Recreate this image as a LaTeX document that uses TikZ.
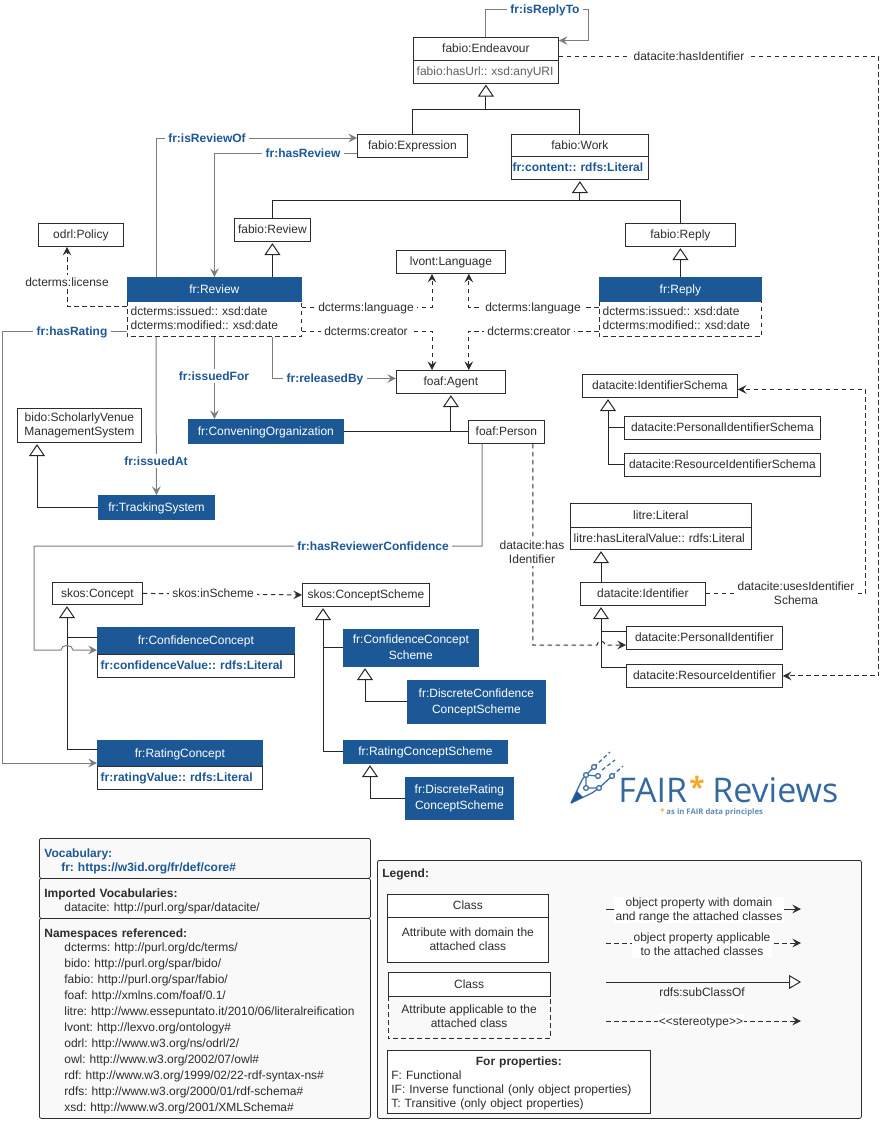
\documentclass[tikz,border=0pt]{standalone}
\usepackage{fontspec}
\setmainfont{Liberation Sans}
\newfontfamily\logofont{Open Sans}
\usetikzlibrary{arrows.meta}
\frenchspacing
\newcommand{\boxfont}{\fontsize{9}{10.5}\selectfont}
\definecolor{frblue}{RGB}{29,88,150}
\definecolor{inkdark}{RGB}{45,45,45}
\definecolor{inkgrey}{RGB}{125,125,125}
\definecolor{panelgrey}{RGB}{249,249,249}
\definecolor{logostar}{RGB}{245,170,40}
\tikzset{
  wh/.style 2 args={minimum width=#1*0.75pt,minimum height=#2*0.75pt},
  basebox/.style={inner sep=0pt,anchor=north west,align=center,text=inkdark,line width=0.6pt,
    font=\boxfont,execute at begin node={\rule{0pt}{8pt}},execute at end node={\vphantom{Ag}}},
  classbox/.style={basebox,draw=inkdark,fill=white},
  frbox/.style={basebox,draw=frblue,fill=frblue,text=white},
  attrbox/.style={classbox,align=left,text width=#1*0.75pt-5pt,inner xsep=2.5pt},
  frattr/.style={attrbox=#1,text=frblue,font=\boxfont\bfseries},
  dashattr/.style={attrbox=#1,draw=none,fill=none},
  subclass/.style={draw=black!85,line width=0.75pt,shorten >=1pt,
    -{Triangle[fill=white,length=9pt,width=12pt]}},
  subline/.style={draw=black!85,line width=0.75pt},
  objprop/.style={draw=inkgrey,line width=0.75pt,
    -{Stealth[length=6.5pt,width=6.5pt,inset=2.5pt]}},
  annprop/.style={draw=inkdark,line width=0.75pt,dash pattern=on 3.4pt off 2.6pt,
    -{Stealth[length=6.5pt,width=6.5pt,inset=2.5pt,fill=inkdark]}},
  proplabel/.style={fill=white,inner xsep=2.5pt,inner ysep=0.5pt,align=center,text=inkdark,
    font=\boxfont,execute at begin node={\rule{0pt}{8pt}},execute at end node={\vphantom{Ag}}},
  frlabel/.style={proplabel,text=frblue,font=\boxfont\bfseries},
  panelbox/.style={basebox,draw=inkdark,fill=panelgrey,rounded corners=1.5pt,align=left,
    text width=#1*0.75pt-7.5pt,inner xsep=3.75pt,execute at begin node={\rule{0pt}{11.1pt}}},
  logoline/.style={draw=frblue!85,line width=1pt},
  logodot/.style={logoline,fill=white,circle,inner sep=0pt,minimum size=3.6pt},
}
\begin{document}
\begin{tikzpicture}[x=0.75pt,y=-0.75pt]
\useasboundingbox (0,0) rectangle (880,1121);
% classes
\node[classbox,wh={145}{23}] (endeavour) at (413,37) {fabio:Endeavour};
\node[attrbox=145,wh={145}{22.5},text=inkdark!75] (endeavourAttr) at (413,60) {fabio:hasUrl:: xsd:anyURI};
\node[classbox,wh={110}{23}] (expression) at (357,134) {fabio:Expression};
\node[classbox,wh={137}{22}] (work) at (511,134) {fabio:Work};
\node[frattr=137,wh={137}{23},text width=101pt,inner xsep=0.875pt] (workAttr) at (511,156) {fr:content:: rdfs:Literal};
\node[classbox,wh={76}{23}] (fabioReview) at (234,218) {fabio:Review};
\node[classbox,wh={110}{23}] (fabioReply) at (625,223) {fabio:Reply};
\node[classbox,wh={85}{23}] (policy) at (38,223) {odrl:Policy};
\node[classbox,wh={109}{23}] (language) at (396,250) {lvont:Language};
\node[frbox,wh={174}{24}] (review) at (127,277) {fr:Review};
\node[dashattr=174,wh={174}{35}] (reviewAttr) at (127,301) {dcterms:issued:: xsd:date\\dcterms:modified:: xsd:date};
\node[frbox,wh={162}{24}] (reply) at (599,277) {fr:Reply};
\node[dashattr=162,wh={162}{35}] (replyAttr) at (599,301) {dcterms:issued:: xsd:date\\dcterms:modified:: xsd:date};
\node[classbox,wh={109}{23}] (agent) at (396,370) {foaf:Agent};
\node[classbox,wh={76}{23}] (person) at (468,420) {foaf:Person};
\node[frbox,wh={155}{24}] (convening) at (188,419) {fr:ConveningOrganization};
\node[classbox,wh={124}{34}] (venue) at (17,408) {bido:ScholarlyVenue\\ManagementSystem};
\node[frbox,wh={116}{24}] (tracking) at (98,495) {fr:TrackingSystem};
\node[classbox,wh={155}{23}] (idSchema) at (582,374) {datacite:IdentifierSchema};
\node[classbox,wh={196}{23}] (personalSchema) at (624,416) {datacite:PersonalIdentifierSchema};
\node[classbox,wh={196}{23}] (resourceSchema) at (624,453) {datacite:ResourceIdentifierSchema};
\node[classbox,wh={181}{24}] (literal) at (570,503) {litre:Literal};
\node[attrbox=181,wh={181}{22}] (literalAttr) at (570,527) {litre:hasLiteralValue:: rdfs:Literal};
\node[classbox,wh={125}{23}] (identifier) at (580,582) {datacite:Identifier};
\node[classbox,wh={156}{23}] (personalId) at (626,626) {datacite:PersonalIdentifier};
\node[classbox,wh={156}{23}] (resourceId) at (626,664) {datacite:ResourceIdentifier};
\node[classbox,wh={90}{22}] (concept) at (52,582) {skos:Concept};
\node[classbox,wh={127}{23}] (scheme) at (302,583) {skos:ConceptScheme};
\node[frbox,wh={197}{27}] (confidence) at (97,627) {fr:ConfidenceConcept};
\node[frattr=197,wh={197}{23}] (confidenceAttr) at (97,654) {fr:confidenceValue:: rdfs:Literal};
\node[frbox,wh={165}{26}] (rating) at (97,740) {fr:RatingConcept};
\node[frattr=165,wh={165}{23}] (ratingAttr) at (97,766) {fr:ratingValue:: rdfs:Literal};
\node[frbox,wh={135}{37}] (confScheme) at (343,629) {fr:ConfidenceConcept\\[1.5pt]Scheme};
\node[frbox,wh={138}{43}] (discreteConf) at (407,680) {fr:DiscreteConfidence\\[1.5pt]ConceptScheme};
\node[frbox,wh={164}{23}] (ratingScheme) at (343,740) {fr:RatingConceptScheme};
\node[frbox,wh={108}{42}] (discreteRating) at (405,777) {fr:DiscreteRating\\[1.5pt]ConceptScheme};
% subclass lines
\draw[subclass] (expression.north) |- ([shift={(0,26.5)}]endeavourAttr.south) -- (endeavourAttr.south);
\draw[subline] (work.north) |- ([shift={(0,26.5)}]endeavourAttr.south);
\draw[subclass] (fabioReview.north) |- ([shift={(0,21)}]workAttr.south) -- (workAttr.south);
\draw[subline] (fabioReply.north) |- ([shift={(0,21)}]workAttr.south);
\draw[subclass] (review.north -| fabioReview.south) -- (fabioReview.south);
\draw[subclass] (reply.north) -- (fabioReply.south);
\draw[subclass] (convening.east) -| (agent.south);
\draw[subline] (person.west) -- ++(-18,0);
\draw[subclass] (tracking.west) -| ([shift={(20,0)}]venue.south west);
\draw[subclass] (resourceSchema.west) -| ([shift={(26,0)}]idSchema.south west);
\draw[subline] (personalSchema.west) -- ++(-16,0);
\draw[subclass] ([shift={(21,0)}]identifier.north west) -- ([shift={(31,0)}]literalAttr.south west);
\draw[subclass] ([shift={(0,3)}]resourceId.north west) -| ([shift={(21,0)}]identifier.south west);
\draw[subline] ([shift={(0,5)}]personalId.north west) -- ++(-25,0);
\draw[subclass] ([shift={(0,9)}]rating.north west) -| ([shift={(15,0)}]concept.south west);
\draw[subline] ([shift={(0,10)}]confidence.north west) -- ++(-30,0);
\draw[subclass] ([shift={(0,11)}]ratingScheme.north west) -| ([shift={(21,0)}]scheme.south west);
\draw[subline] ([shift={(0,18)}]confScheme.north west) -- ++(-20,0);
\draw[subclass] (discreteConf.west) -| ([shift={(22,0)}]confScheme.south west);
\draw[subclass] (discreteRating.west) -| ([shift={(27,0)}]ratingScheme.south west);
% object properties
\draw[objprop] (endeavour.north) |- (588,9) |- ([shift={(0,3.5)}]endeavour.north east)
  node[frlabel] (lblReplyTo) at (545,9) {fr:isReplyTo};
\draw[objprop] ([shift={(29,0)}]review.north west) |- ([shift={(0,4)}]expression.north west)
  node[frlabel] (lblReviewOf) at (207,138) {fr:isReviewOf};
\draw[objprop] ([shift={(0,19)}]expression.north west) -| (review.north)
  node[frlabel] (lblHasReview) at (303,153) {fr:hasReview};
\draw[objprop] ([shift={(0,30)}]reviewAttr.north west) -| (2.5,763) -- ([shift={(0,23)}]rating.north west)
  node[frlabel] (lblRating) at (72,331) {fr:hasRating};
\draw[objprop] ([shift={(29,0)}]reviewAttr.south west) -- (tracking.north)
  node[frlabel] (lblIssuedAt) at (156,461) {fr:issuedAt};
\draw[objprop] (reviewAttr.south) -- (reviewAttr.south |- convening.north)
  node[frlabel] (lblIssuedFor) at (214,376) {fr:issuedFor};
\draw[objprop] ([shift={(145,0)}]reviewAttr.south west) |- ([shift={(0,-3.5)}]agent.west)
  node[frlabel] (lblReleased) at (325,378) {fr:releasedBy};
\draw[objprop] ([shift={(14,0)}]person.south west) |- (34,546) -- (34,650) -- (61,650)
  .. controls (61,644) and (73,644) .. (73,650) -- ([shift={(0,23)}]confidence.north west)
  node[frlabel] (lblConfidence) at (373,546) {fr:hasReviewerConfidence};
% annotation properties
\draw[annprop] ([shift={(0,19)}]endeavour.north east) -| ([shift={(96,0)}]resourceId.east) -- (resourceId.east)
  node[proplabel] (lblEndeavourId) at (689,56) {datacite:hasIdentifier};
\draw[annprop] ([shift={(0,5)}]reviewAttr.north west) -| ([shift={(29,0)}]policy.south west)
  node[proplabel] (lblLicense) at (67,282) {dcterms:license};
\draw[annprop] ([shift={(0,6)}]reviewAttr.north east) -| ([shift={(36,0)}]language.south west)
  node[proplabel] (lblLangReview) at (366,307) {dcterms:language};
\draw[annprop] ([shift={(0,30)}]reviewAttr.north east) -| ([shift={(36,0)}]agent.north west)
  node[proplabel] (lblCreatorReview) at (366,331) {dcterms:creator};
\draw[annprop] ([shift={(0,6)}]replyAttr.north west) -| ([shift={(-37,0)}]language.south east)
  node[proplabel] (lblLangReply) at (533,307) {dcterms:language};
\draw[annprop] ([shift={(0,30)}]replyAttr.north west) -| ([shift={(-37,0)}]agent.north east)
  node[proplabel] (lblCreatorReply) at (529,331) {dcterms:creator};
\draw[annprop] ([shift={(-12,0)}]person.south east) |- (597,645)
  .. controls (597,640) and (605,640) .. (605,645) -- ([shift={(0,19)}]personalId.north west)
  node[proplabel] (lblPersonId) at (532,553) {datacite:has\\Identifier};
\draw[annprop] (identifier.east) -| ([shift={(128,3.5)}]idSchema.east) -- ([shift={(0,3.5)}]idSchema.east)
  node[proplabel] (lblUsesSchema) at (796,594) {datacite:usesIdentifier\\Schema};
\draw[annprop] (concept.east) -- (scheme.west)
  node[proplabel] (lblInScheme) at (213,593) {skos:inScheme};
% dashed attribute outlines
\draw[annprop,-] (reviewAttr.north west) |- (reviewAttr.south east) -- (reviewAttr.north east);
\draw[annprop,-] (replyAttr.north west) |- (replyAttr.south east) -- (replyAttr.north east);
% logo
\draw[logoline,line join=round] (571,803) -- (581,782) .. controls (582,779) and (584,777) .. (586,775);
\draw[logoline,line join=round] (571,803) -- (592,793) -- (599,788);
\fill[frblue] (571,803) -- (577,791) -- (583,797) -- cycle;
\draw[logoline] (586,775) -- (594,767) (586,775) -- (598,776) (586,775) -- (586,788) -- (599,788) -- (612,776);
\draw[logoline,dash pattern=on 3pt off 2pt] (594,767) -- (610,752) (602,770) -- (615,760) (612,776) -- (623,766);
\node[logodot] (dotA) at (586,775) {};
\node[logodot] (dotB) at (594,767) {};
\node[logodot] (dotC) at (598,776) {};
\node[logodot] (dotD) at (586,788) {};
\node[logodot] (dotE) at (599,788) {};
\node[logodot] (dotF) at (612,776) {};
\node[inner sep=0pt,anchor=base west,text=frblue!90,font=\logofont\fontsize{25.5}{26}\selectfont] (logoFair) at (618,802) {FAIR};
\node[inner sep=0pt,anchor=base,text=logostar,font=\logofont\bfseries\fontsize{21}{21}\selectfont] (logoStar) at (697,797) {*};
\node[inner sep=0pt,anchor=base west,text=frblue!90,font=\logofont\fontsize{25.5}{26}\selectfont] (logoReviews) at (712,802) {Reviews};
\node[inner sep=0pt,anchor=base west,text=frblue!70,font=\logofont\bfseries\fontsize{5.8}{6}\selectfont] (logoNote) at (660,814) {\textcolor{logostar}{*} as in FAIR data principles};
% vocabulary panels
\node[panelbox=331,wh={331}{40},text=frblue,font=\boxfont\bfseries] (vocabPanel) at (39,838)
  {Vocabulary:\\\hspace*{12.7pt}fr: https://w3id.org/fr/def/core\#};
\node[panelbox=331,wh={331}{40}] (importPanel) at (39,878)
  {\textbf{Imported Vocabularies:}\\\hspace*{15pt}datacite: http://purl.org/spar/datacite/};
\node[panelbox=331,wh={331}{200}] (nsPanel) at (39,918)
  {\textbf{Namespaces referenced:}\\[-0.4pt]
  \hspace*{15pt}dcterms: http://purl.org/dc/terms/\\[1.5pt]
  \hspace*{15pt}bido: http://purl.org/spar/bido/\\[1.5pt]
  \hspace*{15pt}fabio: http://purl.org/spar/fabio/\\[1.5pt]
  \hspace*{15pt}foaf: http://xmlns.com/foaf/0.1/\\[1.5pt]
  \hspace*{15pt}litre: http://www.essepuntato.it/2010/06/literalreification\\[1.5pt]
  \hspace*{15pt}lvont: http://lexvo.org/ontology\#\\[1.5pt]
  \hspace*{15pt}odrl: http://www.w3.org/ns/odrl/2/\\[1.5pt]
  \hspace*{15pt}owl: http://www.w3.org/2002/07/owl\#\\[1.5pt]
  \hspace*{15pt}rdf: http://www.w3.org/1999/02/22-rdf-syntax-ns\#\\[1.5pt]
  \hspace*{15pt}rdfs: http://www.w3.org/2000/01/rdf-schema\#\\[1.5pt]
  \hspace*{15pt}xsd: http://www.w3.org/2001/XMLSchema\#};
% legend
\node[panelbox=484,wh={484}{258}] (legendPanel) at (377,860) {};
\node[basebox,anchor=west,font=\boxfont\bfseries] (legendTitle) at (382,873) {Legend:};
\node[classbox,wh={161}{23}] (legClass) at (387,894) {Class};
\node[classbox,wh={161}{45}] (legClassAttr) at (387,917) {Attribute with domain the\\attached class};
\node[classbox,wh={161.5}{24}] (legClassB) at (388,972) {Class};
\node[basebox,wh={161.5}{42}] (legClassBAttr) at (388,996) {Attribute applicable to the\\attached class};
\draw[annprop,-] (legClassBAttr.north west) |- (legClassBAttr.south east) -- (legClassBAttr.north east);
\node[classbox,wh={263}{63},align=left,text width=191.25pt,inner xsep=3pt] (legProps) at (387,1050)
  {\makebox[\hsize]{\textbf{For properties:}}\\F: Functional\\IF: Inverse functional (only object properties)\\T: Transitive (only object properties)};
\coordinate (legObjA) at (606,909);
\coordinate (legObjB) at (801,909);
\coordinate (legApplA) at (606,943);
\coordinate (legApplB) at (801,943);
\coordinate (legSubA) at (606,982);
\coordinate (legSubB) at (801,982);
\coordinate (legStereoA) at (606,1021);
\coordinate (legStereoB) at (801,1021);
\draw[draw=inkdark,line width=0.75pt,-{Stealth[length=6.5pt,width=6.5pt,inset=2.5pt]}] (legObjA) -- (legObjB)
  node[proplabel,inner xsep=1pt] (lblLegObj) at (699,910) {object property with domain\\and range the attached classes};
\draw[annprop] (legApplA) -- (legApplB)
  node[proplabel,inner xsep=1pt] (lblLegAppl) at (702,945) {object property applicable\\to the attached classes};
\draw[draw=inkdark,line width=0.75pt,-{Triangle[fill=white,length=9pt,width=10.5pt]}] (legSubA) -- (legSubB)
  node[proplabel,fill=none] (lblLegSub) at (702,992) {rdfs:subClassOf};
\draw[annprop] (legStereoA) -- (legStereoB)
  node[proplabel,inner xsep=1pt] (lblLegStereo) at (701,1021) {<{}<stereotype>{}>};
\end{tikzpicture}
\end{document}
